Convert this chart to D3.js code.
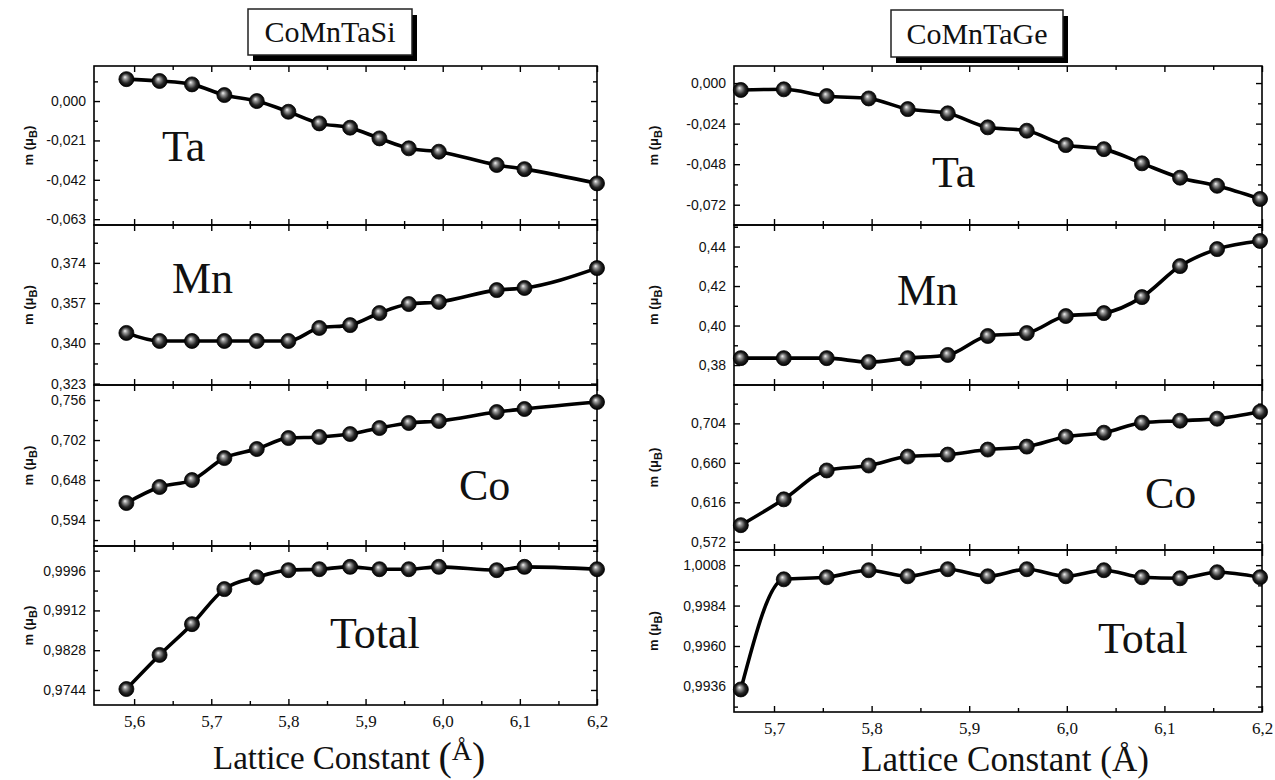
<!DOCTYPE html>
<html><head><meta charset="utf-8">
<script src="https://cdn.jsdelivr.net/npm/d3@7"></script>
<style>body{margin:0;background:#fff} svg{display:block}</style>
</head><body>
<svg id="chart" width="1275" height="780"></svg>
<script>
// ---------- DATA ----------
const latticeSi = [5.590, 5.633, 5.675, 5.717, 5.759, 5.800, 5.840, 5.880, 5.918, 5.956, 5.995, 6.070, 6.106, 6.200];
const taSi    = [0.0117, 0.0107, 0.0089, 0.0032, 0.0000, -0.0057, -0.0119, -0.0142, -0.0199, -0.0252, -0.0270, -0.0341, -0.0363, -0.0439];
const mnSi    = [0.3444, 0.3410, 0.3410, 0.3410, 0.3410, 0.3410, 0.3465, 0.3477, 0.3528, 0.3566, 0.3575, 0.3625, 0.3634, 0.3718];
const coSi    = [0.6170, 0.6386, 0.6480, 0.6777, 0.6899, 0.7047, 0.7061, 0.7101, 0.7182, 0.7250, 0.7277, 0.7398, 0.7439, 0.7533];
const totalSi = [0.9746, 0.9818, 0.9883, 0.9957, 0.9982, 0.9997, 0.9999, 1.0004, 0.9999, 0.9999, 1.0004, 0.9997, 1.0004, 0.9999];

const latticeGe = [5.666, 5.710, 5.754, 5.797, 5.837, 5.878, 5.919, 5.959, 5.999, 6.038, 6.077, 6.116, 6.154, 6.198];
const taGe    = [-0.0041, -0.0037, -0.0077, -0.0091, -0.0154, -0.0179, -0.0262, -0.0282, -0.0367, -0.0391, -0.0475, -0.0560, -0.0608, -0.0686];
const mnGe    = [0.3835, 0.3835, 0.3835, 0.3815, 0.3835, 0.3851, 0.3947, 0.3962, 0.4048, 0.4063, 0.4144, 0.4301, 0.4387, 0.4428];
const coGe    = [0.5905, 0.6193, 0.6515, 0.6570, 0.6670, 0.6692, 0.6748, 0.6781, 0.6892, 0.6936, 0.7047, 0.7070, 0.7092, 0.7169];
const totalGe = [0.99342, 0.99996, 1.00008, 1.00050, 1.00014, 1.00056, 1.00014, 1.00056, 1.00014, 1.00050, 1.00008, 1.00002, 1.00038, 1.00008];

const xTicksSi = [5.6, 5.7, 5.8, 5.9, 6.0, 6.1, 6.2];
const xTicksGe = [5.7, 5.8, 5.9, 6.0, 6.1, 6.2];
const taSiTicks = [-0.063, -0.042, -0.021, 0.000];
const mnSiTicks = [0.323, 0.340, 0.357, 0.374];
const coSiTicks = [0.594, 0.648, 0.702, 0.756];
const totalSiTicks = [0.9744, 0.9828, 0.9912, 0.9996];
const taGeTicks = [-0.072, -0.048, -0.024, 0.000];
const mnGeTicks = [0.38, 0.40, 0.42, 0.44];
const coGeTicks = [0.572, 0.616, 0.660, 0.704];
const totalGeTicks = [0.9936, 0.9960, 0.9984, 1.0008];

const titles = ["CoMnTaSi", "CoMnTaGe"];
const elements = ["Ta", "Mn", "Co", "Total"];
const xTitle = "Lattice Constant (Å)";

// ---------- DRAW ----------
const svg = d3.select('#chart');
const defs = svg.append('defs');
const g = defs.append('radialGradient').attr('id', 'ball')
  .attr('cx', '50%').attr('cy', '50%').attr('r', '50%').attr('fx', '40%').attr('fy', '36%');
g.append('stop').attr('offset', '0%').attr('stop-color', '#f4f4f4');
g.append('stop').attr('offset', '25%').attr('stop-color', '#9a9a9a');
g.append('stop').attr('offset', '65%').attr('stop-color', '#262626');
g.append('stop').attr('offset', '100%').attr('stop-color', '#000');

const fmtComma = f => v => d3.format(f)(v).replace('.', ',').replace('−', '-');

function drawPanel(cfg) {
  const x = d3.scaleLinear().domain(cfg.xDomain).range([cfg.x0, cfg.x1]);
  const y = d3.scaleLinear().domain(cfg.yDomain).range([cfg.y1, cfg.y0]);
  const G = svg.append('g');
  const step = cfg.yTicks[1] - cfg.yTicks[0];
  const minors = [];
  for (let i = -1; i < cfg.yTicks.length; i++) {
    const v = cfg.yTicks[0] + (i + 0.5) * step;
    if (v > cfg.yDomain[0] && v < cfg.yDomain[1]) minors.push(v);
  }
  const yLeft = d3.axisLeft(y).tickValues(cfg.yTicks).tickSize(-6).tickPadding(8).tickFormat(fmtComma(cfg.fmt));
  const yl = G.append('g').attr('transform', `translate(${cfg.x0},0)`).call(yLeft);
  yl.select('.domain').remove();
  yl.selectAll('text').attr('font-family', 'Liberation Sans, Arial, sans-serif').attr('font-size', 14).attr('fill', '#111');
  G.append('g').attr('transform', `translate(${cfg.x0},0)`)
    .call(d3.axisLeft(y).tickValues(minors).tickSize(-4).tickFormat(''))
    .select('.domain').remove();
  G.append('g').attr('transform', `translate(${cfg.x1},0)`)
    .call(d3.axisRight(y).tickValues(cfg.yTicks).tickSize(-6).tickFormat(''))
    .select('.domain').remove();
  G.append('g').attr('transform', `translate(${cfg.x1},0)`)
    .call(d3.axisRight(y).tickValues(minors).tickSize(-4).tickFormat(''))
    .select('.domain').remove();
  const xMinors = cfg.xTicks.map(v => v - 0.05).concat([cfg.xTicks[cfg.xTicks.length - 1] + 0.05])
    .filter(v => v > cfg.xDomain[0] + 0.01 && v < cfg.xDomain[1] - 0.01);
  G.append('g').attr('transform', `translate(0,${cfg.y0})`)
    .call(d3.axisTop(x).tickValues(cfg.xTicks).tickSize(-6).tickFormat('')).select('.domain').remove();
  G.append('g').attr('transform', `translate(0,${cfg.y0})`)
    .call(d3.axisTop(x).tickValues(xMinors).tickSize(-4).tickFormat('')).select('.domain').remove();
  const xb = G.append('g').attr('transform', `translate(0,${cfg.y1})`)
    .call(d3.axisBottom(x).tickValues(cfg.xTicks).tickSize(-6).tickPadding(cfg.xPad || 10)
      .tickFormat(cfg.showX ? fmtComma('.1f') : ''));
  xb.select('.domain').remove();
  xb.selectAll('text').attr('font-family', 'Liberation Serif, Times New Roman, serif').attr('font-size', 17).attr('fill', '#111');
  G.append('g').attr('transform', `translate(0,${cfg.y1})`)
    .call(d3.axisBottom(x).tickValues(xMinors).tickSize(-4).tickFormat('')).select('.domain').remove();
  G.selectAll('.tick line').attr('stroke', '#000').attr('stroke-width', 1.4);
  G.append('rect').attr('x', cfg.x0).attr('y', cfg.y0).attr('width', cfg.x1 - cfg.x0).attr('height', cfg.y1 - cfg.y0)
    .attr('fill', 'none').attr('stroke', '#000').attr('stroke-width', 1.6);
  const yt = G.append('text').attr('transform', `translate(${cfg.yTitleX},${(cfg.y0 + cfg.y1) / 2}) rotate(-90)`)
    .attr('text-anchor', 'middle').attr('font-family', 'Liberation Sans, Arial, sans-serif')
    .attr('font-weight', 'bold').attr('font-size', 13).attr('fill', '#111');
  yt.append('tspan').text('m (μ');
  yt.append('tspan').attr('font-size', 11).attr('dy', 4).text('B');
  yt.append('tspan').attr('dy', -4).text(')');
  G.append('text').attr('x', cfg.label[0]).attr('y', cfg.label[1])
    .attr('font-family', 'Liberation Serif, Times New Roman, serif').attr('font-size', 44).attr('fill', '#111')
    .text(cfg.name);
  const pts = cfg.xs.map((v, i) => [v, cfg.ys[i]]);
  const line = d3.line().x(d => x(d[0])).y(d => y(d[1])).curve(d3.curveMonotoneX);
  G.append('path').attr('d', line(pts)).attr('fill', 'none').attr('stroke', '#000').attr('stroke-width', 3.6);
  G.selectAll('circle.m').data(pts).join('circle').attr('class', 'm')
    .attr('cx', d => x(d[0])).attr('cy', d => y(d[1])).attr('r', 7.5)
    .attr('fill', 'url(#ball)').attr('stroke', '#000').attr('stroke-width', 0.8);
}

const L = {x0: 94, x1: 597, xDomain: [5.548, 6.2], xs: latticeSi, xTicks: xTicksSi, yTitleX: 33};
const Lrows = [
  {y0: 66, y1: 225, yDomain: [-0.0661, 0.0187], yTicks: taSiTicks, fmt: '.3f', ys: taSi, label: [162, 161]},
  {y0: 225, y1: 385, yDomain: [0.3224, 0.3900], yTicks: mnSiTicks, fmt: '.3f', ys: mnSi, label: [172, 293]},
  {y0: 385, y1: 546, yDomain: [0.5590, 0.7763], yTicks: coSiTicks, fmt: '.3f', ys: coSi, label: [459, 500]},
  {y0: 546, y1: 705, yDomain: [0.97123, 1.0048], yTicks: totalSiTicks, fmt: '.4f', ys: totalSi, label: [330, 648], showX: true, xPad: 10}
];
Lrows.forEach((r, i) => drawPanel(Object.assign({}, L, r, {name: elements[i]})));

const R = {x0: 734, x1: 1262, xDomain: [5.659, 6.2], xs: latticeGe, xTicks: xTicksGe, yTitleX: 658};
const Rrows = [
  {y0: 66, y1: 225, yDomain: [-0.0840, 0.0101], yTicks: taGeTicks, fmt: '.3f', ys: taGe, label: [932, 187]},
  {y0: 225, y1: 385, yDomain: [0.3699, 0.4509], yTicks: mnGeTicks, fmt: '.2f', ys: mnGe, label: [897, 305]},
  {y0: 385, y1: 550, yDomain: [0.5628, 0.7468], yTicks: coGeTicks, fmt: '.3f', ys: coGe, label: [1145, 508]},
  {y0: 550, y1: 712, yDomain: [0.99208, 1.0017], yTicks: totalGeTicks, fmt: '.4f', ys: totalGe, label: [1098, 653], showX: true, xPad: 10}
];
Rrows.forEach((r, i) => drawPanel(Object.assign({}, R, r, {name: elements[i]})));

function titleBox(x, y, w, h, txt) {
  svg.append('rect').attr('x', x + 5).attr('y', y + 6).attr('width', w).attr('height', h).attr('fill', '#000');
  svg.append('rect').attr('x', x).attr('y', y).attr('width', w).attr('height', h)
    .attr('fill', '#fff').attr('stroke', '#222').attr('stroke-width', 1.5);
  svg.append('text').attr('x', x + w / 2).attr('y', y + h / 2 + 10).attr('text-anchor', 'middle')
    .attr('font-family', 'Liberation Serif, Times New Roman, serif').attr('font-size', 30).attr('fill', '#111').text(txt);
}
titleBox(248, 9, 164, 46, titles[0]);
titleBox(891, 10, 172, 47, titles[1]);

const xt1 = svg.append('text').attr('x', 213).attr('y', 769)
  .attr('font-family', 'Liberation Serif, Times New Roman, serif').attr('font-size', 33).attr('fill', '#111');
xt1.append('tspan').text(xTitle.replace(' (Å)', ' '));
xt1.append('tspan').attr('font-size', 40).attr('dy', 1).text('(');
xt1.append('tspan').attr('font-size', 28).attr('dy', -10).text('Å');
xt1.append('tspan').attr('font-size', 40).attr('dy', 10).text(')');
svg.append('text').attr('x', 1005).attr('y', 771).attr('text-anchor', 'middle')
  .attr('font-family', 'Liberation Serif, Times New Roman, serif').attr('font-size', 35).attr('fill', '#111')
  .text(xTitle);
</script>
</body></html>
